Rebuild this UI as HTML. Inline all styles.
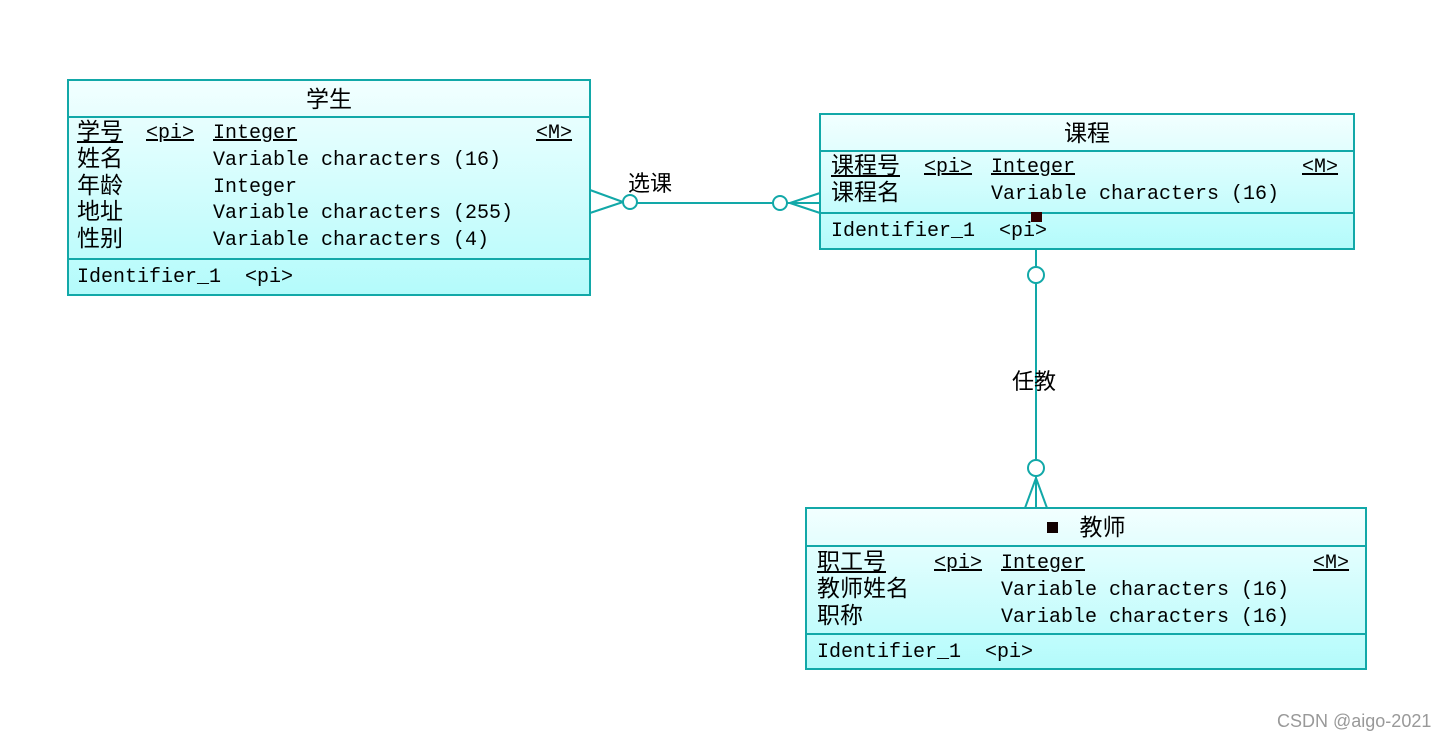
<!DOCTYPE html>
<html><head><meta charset="utf-8"><style>
body{margin:0;width:1454px;height:744px;background:#fff;position:relative;overflow:hidden;font-family:"Liberation Mono","Noto Sans CJK SC",monospace;font-size:20px;color:#000}
.box{position:absolute;border:2px solid #12a8a8;box-sizing:border-box;background:linear-gradient(#f2ffff,#b4fbfb)}
.sep{position:absolute;left:0;right:0;height:0;border-top:2px solid #12a8a8}
.t{position:absolute;white-space:pre;line-height:27px}
.t>.c:first-child,.c{font-size:23px}
.u{text-decoration:underline}
.h{position:absolute;left:0;right:0;text-align:center;font-family:"Liberation Sans","Noto Sans CJK SC",sans-serif;font-size:23px;line-height:36px}
.lbl{position:absolute;font-family:"Liberation Sans","Noto Sans CJK SC",sans-serif;font-size:22px}
</style></head><body>
<svg width="1454" height="744" style="position:absolute;left:0;top:0">
<g stroke="#12a8a8" stroke-width="2" fill="none">
<line x1="637" y1="203" x2="773" y2="203"/>
<circle cx="630" cy="202" r="7" fill="#fff"/>
<line x1="623" y1="202" x2="590" y2="190"/><line x1="623" y1="202" x2="590" y2="213"/>
<circle cx="780" cy="203" r="7" fill="#fff"/>
<line x1="787" y1="203" x2="820" y2="203"/>
<line x1="790" y1="203" x2="820" y2="193"/><line x1="790" y1="203" x2="820" y2="213"/>
<line x1="1036" y1="249" x2="1036" y2="267"/>
<circle cx="1036" cy="275" r="8" fill="#fff"/>
<line x1="1036" y1="283" x2="1036" y2="460"/>
<circle cx="1036" cy="468" r="8" fill="#fff"/>
<line x1="1036" y1="476" x2="1036" y2="508"/>
<line x1="1036" y1="478" x2="1025" y2="508"/><line x1="1036" y1="478" x2="1047" y2="508"/>
</g></svg>
<div class="lbl" style="left:628px;top:166px">选课</div>
<div class="lbl" style="left:1012px;top:364px">任教</div>

<div class="box" style="left:67px;top:79px;width:524px;height:217px">
<div class="h" style="top:0">学生</div>
<div class="sep" style="top:35px"></div>
<div class="sep" style="top:177px"></div>
<div class="t" style="left:8px;top:39px"><span class="u c">学号</span><span style="position:absolute;left:69px" class="u">&lt;pi&gt;</span><span style="position:absolute;left:136px" class="u">Integer</span><span style="position:absolute;left:459px" class="u">&lt;M&gt;</span></div>
<div class="t" style="left:8px;top:66px"><span class="c">姓名</span><span style="position:absolute;left:136px">Variable characters (16)</span></div>
<div class="t" style="left:8px;top:93px"><span class="c">年龄</span><span style="position:absolute;left:136px">Integer</span></div>
<div class="t" style="left:8px;top:119px"><span class="c">地址</span><span style="position:absolute;left:136px">Variable characters (255)</span></div>
<div class="t" style="left:8px;top:146px"><span class="c">性别</span><span style="position:absolute;left:136px">Variable characters (4)</span></div>
<div class="t" style="left:8px;top:183px">Identifier_1  &lt;pi&gt;</div>
</div>

<div class="box" style="left:819px;top:113px;width:536px;height:137px">
<div class="h" style="top:0">课程</div>
<div class="sep" style="top:35px"></div>
<div class="sep" style="top:97px"></div>
<div class="t" style="left:10px;top:39px"><span class="u c">课程号</span><span style="position:absolute;left:93px" class="u">&lt;pi&gt;</span><span style="position:absolute;left:160px" class="u">Integer</span><span style="position:absolute;left:471px" class="u">&lt;M&gt;</span></div>
<div class="t" style="left:10px;top:66px"><span class="c">课程名</span><span style="position:absolute;left:160px">Variable characters (16)</span></div>
<div class="t" style="left:10px;top:103px">Identifier_1  &lt;pi&gt;</div>
<div style="position:absolute;left:210px;top:97px;width:11px;height:10px;background:#300"></div>
</div>

<div class="box" style="left:805px;top:507px;width:562px;height:163px">
<div class="h" style="top:0"><span style="display:inline-block;width:11px;height:11px;background:#100;margin-right:22px;vertical-align:2px"></span>教师</div>
<div class="sep" style="top:36px"></div>
<div class="sep" style="top:124px"></div>
<div class="t" style="left:10px;top:41px"><span class="u c">职工号</span><span style="position:absolute;left:117px" class="u">&lt;pi&gt;</span><span style="position:absolute;left:184px" class="u">Integer</span><span style="position:absolute;left:496px" class="u">&lt;M&gt;</span></div>
<div class="t" style="left:10px;top:68px"><span class="c">教师姓名</span><span style="position:absolute;left:184px">Variable characters (16)</span></div>
<div class="t" style="left:10px;top:95px"><span class="c">职称</span><span style="position:absolute;left:184px">Variable characters (16)</span></div>
<div class="t" style="left:10px;top:130px">Identifier_1  &lt;pi&gt;</div>
</div>

<div class="lbl" style="left:1277px;top:711px;font-size:18px;color:#999">CSDN @aigo-2021</div>
</body></html>
